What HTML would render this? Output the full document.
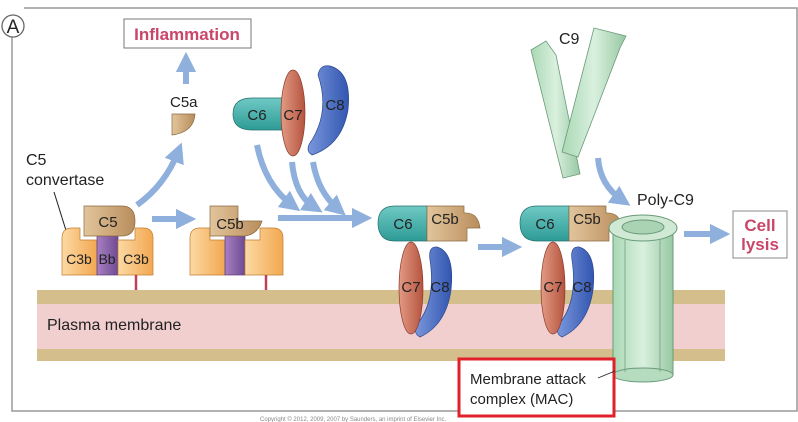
<!DOCTYPE html>
<html><head><meta charset="utf-8"><style>
html,body{margin:0;padding:0;background:#fff;}
svg{display:block;font-family:"Liberation Sans",Arial,sans-serif;}
</style></head><body>
<svg width="798" height="422" viewBox="0 0 798 422" xmlns="http://www.w3.org/2000/svg">
<defs>
<marker id="ah" markerWidth="3.4" markerHeight="3.4" refX="1.7" refY="1.7" orient="auto" markerUnits="strokeWidth"><path d="M0,0 L3.4,1.7 L0,3.4 Z" fill="#8fb0dc"/></marker>
<linearGradient id="or" x1="0" x2="1"><stop offset="0" stop-color="#fcd9a4"/><stop offset="1" stop-color="#f2a850"/></linearGradient>
<linearGradient id="tn" x1="0" x2="1"><stop offset="0" stop-color="#e2c59c"/><stop offset="1" stop-color="#b98d5c"/></linearGradient>
<linearGradient id="tl" x1="0" y1="0" x2="0" y2="1"><stop offset="0" stop-color="#6fc9c4"/><stop offset="1" stop-color="#2e9b96"/></linearGradient>
<linearGradient id="rd" x1="0" x2="1"><stop offset="0" stop-color="#e39a84"/><stop offset="1" stop-color="#b5543f"/></linearGradient>
<linearGradient id="bl" x1="0" x2="1"><stop offset="0" stop-color="#7a97dc"/><stop offset="1" stop-color="#3256b0"/></linearGradient>
<linearGradient id="gr" x1="0" x2="1"><stop offset="0" stop-color="#a9d8b4"/><stop offset="0.5" stop-color="#d9f0de"/><stop offset="1" stop-color="#98c8a3"/></linearGradient>
<linearGradient id="pu" x1="0" x2="1"><stop offset="0" stop-color="#a781c2"/><stop offset="1" stop-color="#6f4a92"/></linearGradient>
</defs>
<path d="M12,26 V411 H797 V8 H24" fill="none" stroke="#999" stroke-width="1.5"/>
<circle cx="13" cy="26" r="11" fill="#fff" stroke="#666" stroke-width="1.3"/>
<text x="13" y="33" font-size="19" text-anchor="middle" fill="#222">A</text>
<rect x="37" y="290" width="688" height="14" fill="#d4bf8c"/>
<rect x="37" y="304" width="688" height="45" fill="#f2cfcf"/>
<rect x="37" y="349" width="688" height="12" fill="#d4bf8c"/>
<text x="47" y="330" font-size="16" fill="#222">Plasma membrane</text>
<rect x="124" y="19" width="127" height="29" fill="#fff" stroke="#777"/>
<text x="187" y="40" font-size="17" font-weight="bold" fill="#c9456a" text-anchor="middle">Inflammation</text>
<g stroke="#8fb0dc" stroke-width="6" fill="none" marker-end="url(#ah)">
<path d="M186,84 V62"/>
<path d="M137,205 Q165,185 178,152"/>
<path d="M152,219 H186"/>
<path d="M278,218 H362"/>
<path d="M257,145 Q265,185 292,205"/>
<path d="M292,162 Q295,195 314,207"/>
<path d="M313,162 Q318,192 338,209"/>
<path d="M478,247 H512"/>
<path d="M598,158 Q600,185 622,200"/>
<path d="M684,234 H720"/>
</g>
<text x="170" y="107" font-size="15" fill="#222">C5a</text>
<path d="M172,114 H195 Q194,132 172,135 Z" fill="url(#tn)" stroke="#8a6a40" stroke-width="0.7"/>
<text x="26" y="165" font-size="16" fill="#222">C5</text>
<text x="26" y="185" font-size="16" fill="#222">convertase</text>
<line x1="54" y1="192" x2="69" y2="240" stroke="#222" stroke-width="1"/>
<path d="M62,238 Q62,228 72,228 H80 V240 H97 V275 H62 Z" fill="url(#or)" stroke="#c07c30" stroke-width="0.7"/>
<rect x="97" y="236" width="21" height="39" fill="url(#pu)" stroke="#5a3a7a" stroke-width="0.7"/>
<path d="M118,240 H135 V228 H143 Q153,228 153,238 V275 H118 Z" fill="url(#or)" stroke="#c07c30" stroke-width="0.7"/>
<path d="M84,206 H122 Q135,206 135,221 Q135,236 122,236 H84 Z" fill="url(#tn)" stroke="#8a6a40" stroke-width="0.7"/>
<text x="108" y="227" font-size="15" text-anchor="middle" fill="#222">C5</text>
<text x="79" y="264" font-size="14" text-anchor="middle" fill="#222">C3b</text>
<text x="107" y="264" font-size="14" text-anchor="middle" fill="#222">Bb</text>
<text x="136" y="264" font-size="14" text-anchor="middle" fill="#222">C3b</text>
<line x1="136" y1="275" x2="136" y2="290" stroke="#c0405a" stroke-width="2.5"/>
<path d="M190,238 Q190,228 200,228 H210 V240 H225 V275 H190 Z" fill="url(#or)" stroke="#c07c30" stroke-width="0.7"/>
<rect x="225" y="236" width="20" height="39" fill="url(#pu)" stroke="#5a3a7a" stroke-width="0.7"/>
<path d="M245,240 H260 V228 H273 Q283,228 283,238 V275 H245 Z" fill="url(#or)" stroke="#c07c30" stroke-width="0.7"/>
<path d="M210,206 H238 V221 H262 Q258,234 245,236 H210 Z" fill="url(#tn)" stroke="#8a6a40" stroke-width="0.7"/>
<text x="230" y="229" font-size="15" text-anchor="middle" fill="#222">C5b</text>
<line x1="266" y1="275" x2="266" y2="290" stroke="#c0405a" stroke-width="2.5"/>
<path d="M252,98 H283 V130 H252 Q233,130 233,114 Q233,98 252,98 Z" fill="url(#tl)" stroke="#23706c" stroke-width="0.7"/>
<text x="257" y="120" font-size="15" text-anchor="middle" fill="#222">C6</text>
<path d="M330,66 Q352,72 348,110 Q342,145 312,155 Q304,150 312,140 Q330,110 318,75 Q320,64 330,66 Z" fill="url(#bl)" stroke="#2a4890" stroke-width="0.7"/>
<text x="335" y="110" font-size="15" text-anchor="middle" fill="#222">C8</text>
<ellipse cx="293" cy="113" rx="12" ry="43" fill="url(#rd)" stroke="#8a3a2a" stroke-width="0.7"/>
<text x="293" y="120" font-size="15" text-anchor="middle" fill="#222">C7</text>
<g id="cx">
<path d="M437,247 Q455,252 451,290 Q446,325 420,337 Q412,333 418,323 Q436,300 430,260 Q428,246 437,247 Z" fill="url(#bl)" stroke="#2a4890" stroke-width="0.7"/>
<text x="440" y="292" font-size="15" text-anchor="middle" fill="#222">C8</text>
<ellipse cx="411" cy="288" rx="12" ry="46" fill="url(#rd)" stroke="#8a3a2a" stroke-width="0.7"/>
<text x="411" y="292" font-size="15" text-anchor="middle" fill="#222">C7</text>
<path d="M395,206 H427 V241 H395 Q378,241 378,223 Q378,206 395,206 Z" fill="url(#tl)" stroke="#23706c" stroke-width="0.7"/>
<text x="403" y="229" font-size="15" text-anchor="middle" fill="#222">C6</text>
<path d="M427,206 H464 V213 Q478,212 480,228 H467 V241 H427 Z" fill="url(#tn)" stroke="#8a6a40" stroke-width="0.7"/>
<text x="445" y="224" font-size="15" text-anchor="middle" fill="#222">C5b</text>
</g>
<use href="#cx" transform="translate(142,0)"/>
<text x="559" y="44" font-size="16" fill="#222">C9</text>
<polygon points="531,50 546,41 556,55 580,174 563,178" fill="url(#gr)" stroke="#6a9a78" stroke-width="0.8"/>
<polygon points="594,28 626,36 620,48 578,157 562,152" fill="url(#gr)" stroke="#6a9a78" stroke-width="0.8"/>
<rect x="613" y="228" width="60" height="147" fill="url(#gr)" stroke="#6a9a78"/>
<ellipse cx="643" cy="375" rx="30" ry="7" fill="#b6dcbf" stroke="#6a9a78"/>
<line x1="625" y1="240" x2="625" y2="372" stroke="#6a9a78" stroke-width="0.7"/>
<line x1="660" y1="240" x2="660" y2="372" stroke="#6a9a78" stroke-width="0.7"/>
<ellipse cx="643" cy="228" rx="34" ry="13" fill="#cfe9d5" stroke="#6a9a78"/>
<ellipse cx="643" cy="227" rx="21" ry="7" fill="#a9d3b3" stroke="#6a9a78"/>
<text x="637" y="205" font-size="16" fill="#222">Poly-C9</text>
<rect x="733" y="211" width="54" height="47" fill="#fff" stroke="#888"/>
<text x="760" y="231" font-size="17" font-weight="bold" fill="#c9456a" text-anchor="middle">Cell</text>
<text x="760" y="250" font-size="17" font-weight="bold" fill="#c9456a" text-anchor="middle">lysis</text>
<rect x="459" y="359" width="155" height="57" fill="#fff" stroke="#e0202a" stroke-width="3"/>
<text x="470" y="384" font-size="15" fill="#222">Membrane attack</text>
<text x="470" y="404" font-size="15" fill="#222">complex (MAC)</text>
<line x1="598" y1="378" x2="615" y2="371" stroke="#222" stroke-width="0.8"/>
<text x="260" y="421" font-size="6" fill="#888">Copyright © 2012, 2009, 2007 by Saunders, an imprint of Elsevier Inc.</text>
</svg>
</body></html>
